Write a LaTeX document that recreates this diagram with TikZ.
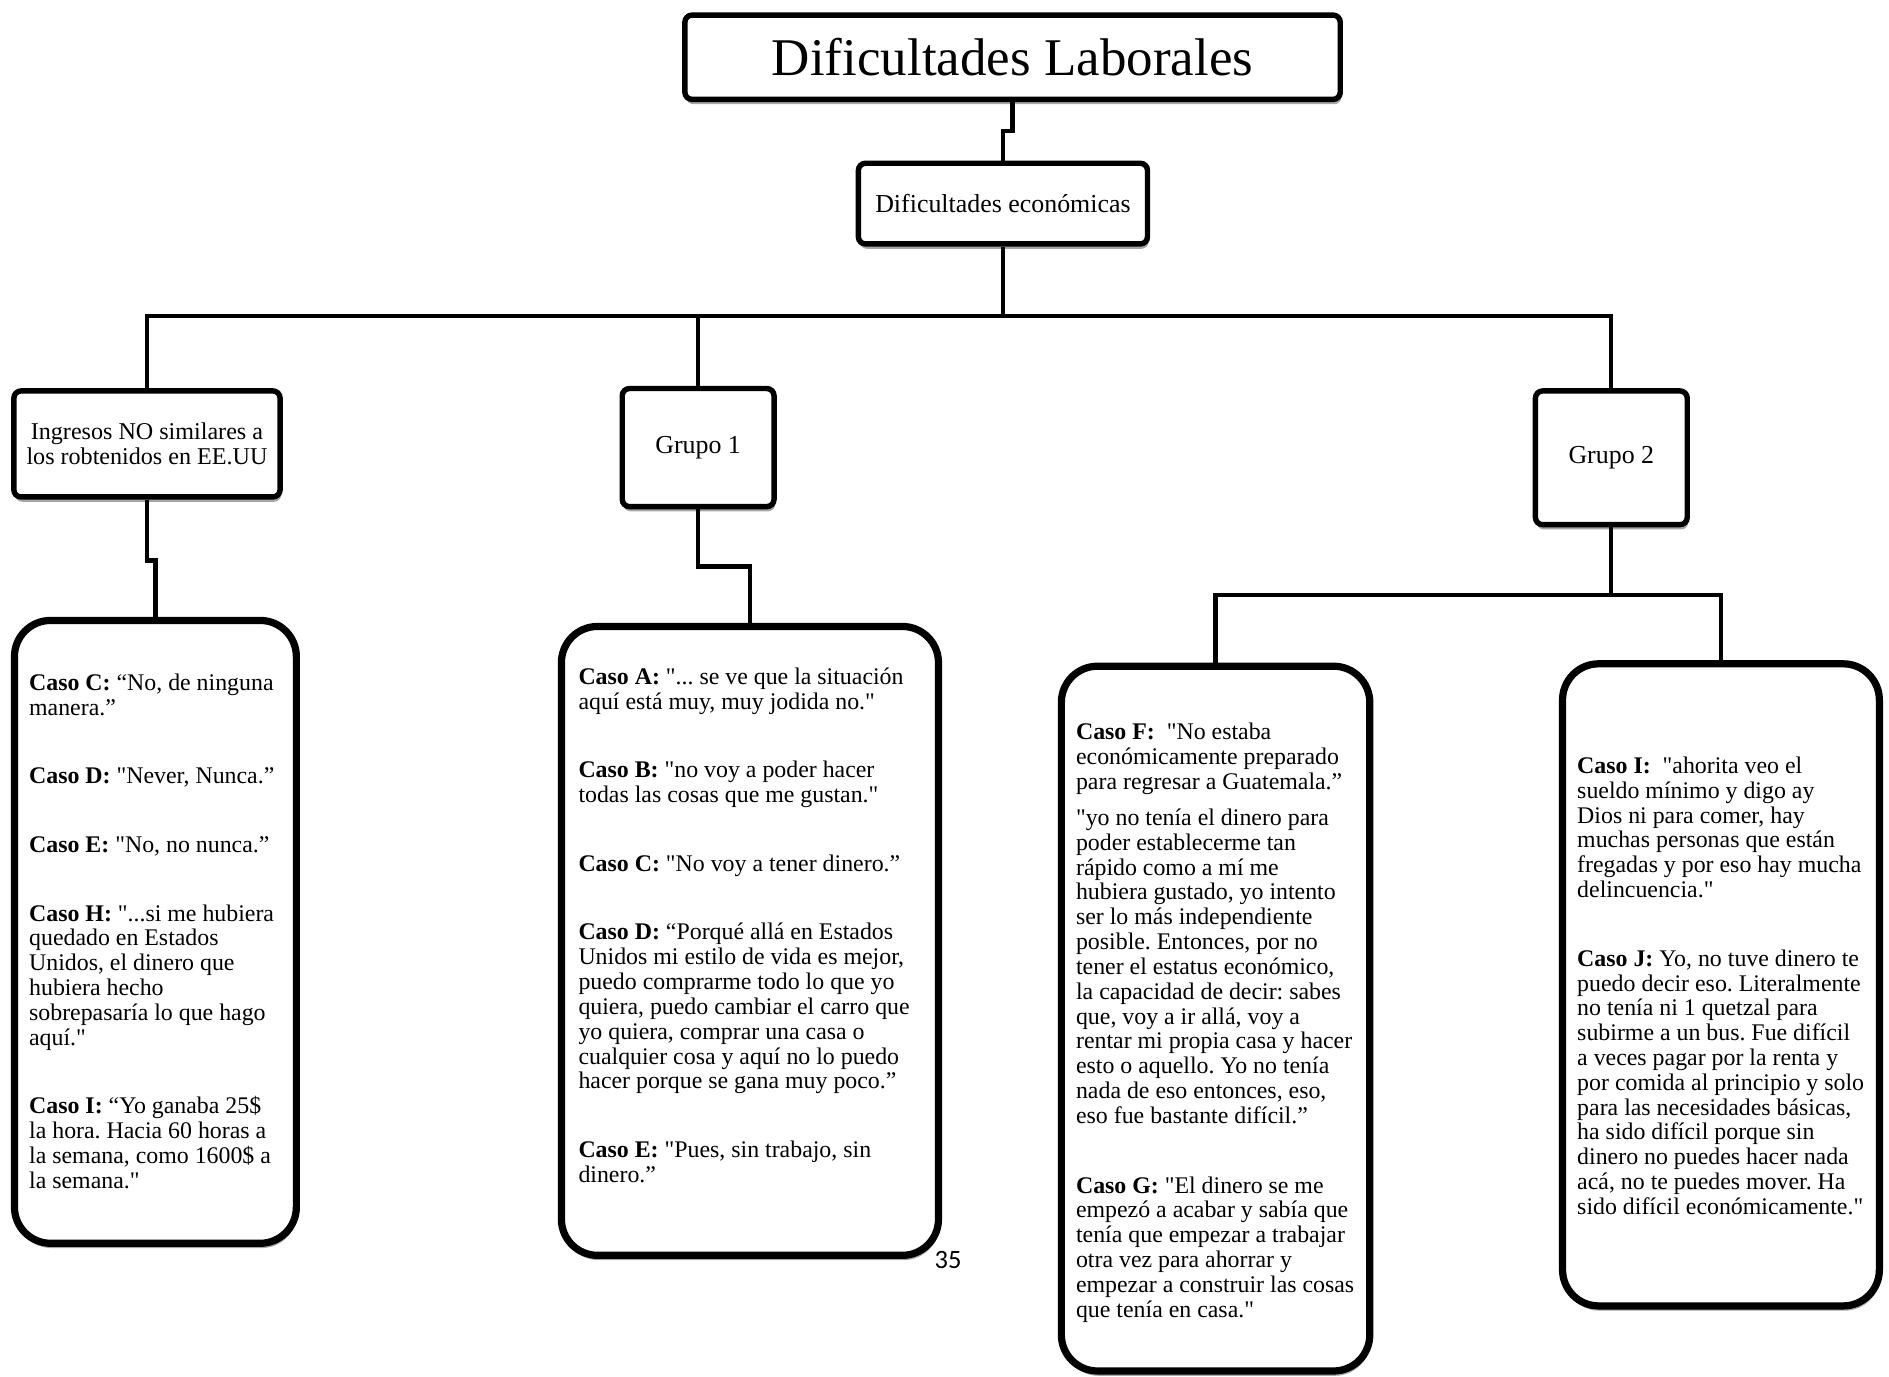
\documentclass[tikz,border=0pt]{standalone}
\usepackage{fontspec}
\setmainfont{Liberation Serif}[Ligatures=TeXOff]
\newfontfamily\pagefont{Carlito}
\usetikzlibrary{shadows}
\begin{document}
\frenchspacing
\begin{tikzpicture}[x=1pt,y=-1pt,
  shad/.style={drop shadow={shadow xshift=1pt, shadow yshift=-4pt, opacity=0.35, fill=black}},
  hbox/.style={draw, line width=4.5pt, rounded corners=6pt, fill=white, shad, inner sep=0pt, align=center},
  cbox/.style={draw, line width=6pt, rounded corners=30pt, fill=white, shad, inner sep=0pt},
  conn/.style={line width=3.5pt},
  txt/.style={anchor=base west, inner sep=0pt}]
\useasboundingbox (0,0) rectangle (1568,1142.2);

% header boxes
\node[hbox, minimum width=544pt, minimum height=70pt, font=\fontsize{44}{50}\selectfont] (title) at (840.5,47.5) {Dificultades Laborales};
\node[hbox, minimum width=240pt, minimum height=67pt, font=\fontsize{21.5}{24}\selectfont] (econ) at (832.5,169) {Dificultades económicas};
\node[hbox, minimum width=221pt, minimum height=88pt, font=\fontsize{20}{21}\selectfont] (ing) at (122,368.5) {Ingresos NO similares a\\los robtenidos en EE.UU};
\node[hbox, minimum width=126pt, minimum height=98pt, font=\fontsize{21.5}{24}\selectfont] (g1) at (579.5,371.5) {Grupo 1};
\node[hbox, minimum width=126pt, minimum height=111pt, font=\fontsize{21.5}{24}\selectfont] (g2) at (1337.5,380) {Grupo 2};

% case boxes
\node[cbox, minimum width=234pt, minimum height=517pt] (b1) at (129,773.5) {};
\node[cbox, minimum width=313pt, minimum height=522pt] (b2) at (622.5,781) {};
\node[cbox, minimum width=256pt, minimum height=585pt] (b3) at (1009,845.5) {};
\node[cbox, minimum width=263pt, minimum height=533pt] (b4) at (1428.5,817.5) {};

% connectors
\coordinate (bar) at (832.5,262);
\coordinate (bar2) at (1337.5,494);
\draw[conn] (title.south) -- ++(0,24) -| (econ.north);
\draw[conn] (econ.south) -- (bar);
\draw[conn] (ing.north) |- (bar) -| (g2.north);
\draw[conn] (g1.north) -- (g1.north |- bar);
\draw[conn] (ing.south) -- ++(0,50.5) -| (b1.north);
\draw[conn] (g1.south) -- ++(0,47.5) -| (b2.north);
\draw[conn] (g2.south) -- (bar2);
\draw[conn] (b3.north) |- (bar2) -| (b4.north);

% texts
\node[txt] (t1) at (24,573) {\parbox[t]{320pt}{\raggedright\fontsize{19.8}{20.6}\selectfont
\textbf{Caso C:} “No, de ninguna\\manera.”\\[36.4pt]
\textbf{Caso D:} "Never, Nunca.”\\[36.4pt]
\textbf{Caso E:} "No, no nunca.”\\[36.4pt]
\textbf{Caso H:} "...si me hubiera\\quedado en Estados\\Unidos, el dinero que\\hubiera hecho\\sobrepasaría lo que hago\\aquí."\\[36.4pt]
\textbf{Caso I:} “Yo ganaba 25\$\\la hora. Hacia 60 horas a\\la semana, como 1600\$ a\\la semana."}};

\node[txt] (t2) at (480,568) {\parbox[t]{340pt}{\raggedright\fontsize{19.8}{20.6}\selectfont
\textbf{Caso A:} "... se ve que la situación\\aquí está muy, muy jodida no."\\[36.4pt]
\textbf{Caso B:} "no voy a poder hacer\\todas las cosas que me gustan."\\[36.4pt]
\textbf{Caso C:} "No voy a tener dinero.”\\[36.4pt]
\textbf{Caso D:} “Porqué allá en Estados\\Unidos mi estilo de vida es mejor,\\puedo comprarme todo lo que yo\\quiera, puedo cambiar el carro que\\yo quiera, comprar una casa o\\cualquier cosa y aquí no lo puedo\\hacer porque se gana muy poco.”\\[36.4pt]
\textbf{Caso E:} "Pues, sin trabajo, sin\\dinero.”}};

\node[txt] (t3) at (893,614) {\parbox[t]{340pt}{\raggedright\fontsize{19.8}{20.6}\selectfont
\textbf{Caso F:}\ \ "No estaba\\económicamente preparado\\para regresar a Guatemala.”\\[9.4pt]
"yo no tenía el dinero para\\poder establecerme tan\\rápido como a mí me\\hubiera gustado, yo intento\\ser lo más independiente\\posible. Entonces, por no\\tener el estatus económico,\\la capacidad de decir: sabes\\que, voy a ir allá, voy a\\rentar mi propia casa y hacer\\esto o aquello. Yo no tenía\\nada de eso entonces, eso,\\eso fue bastante difícil.”\\[37.4pt]
\textbf{Caso G:} "El dinero se me\\empezó a acabar y sabía que\\tenía que empezar a trabajar\\otra vez para ahorrar y\\empezar a construir las cosas\\que tenía en casa."}};

\node[txt] (t4) at (1309,642) {\parbox[t]{340pt}{\raggedright\fontsize{19.8}{20.6}\selectfont
\textbf{Caso I:}\ \ "ahorita veo el\\sueldo mínimo y digo ay\\Dios ni para comer, hay\\muchas personas que están\\fregadas y por eso hay mucha\\delincuencia."\\[36.4pt]
\textbf{Caso J:} Yo, no tuve dinero te\\puedo decir eso. Literalmente\\no tenía ni 1 quetzal para\\subirme a un bus. Fue difícil\\a veces pagar por la renta y\\por comida al principio y solo\\para las necesidades básicas,\\ha sido difícil porque sin\\dinero no puedes hacer nada\\acá, no te puedes mover. Ha\\sido difícil económicamente."}};

\node[inner sep=0pt, font=\pagefont\fontsize{22}{24}\selectfont] (pg) at (787,1046) {35};
\end{tikzpicture}
\end{document}
